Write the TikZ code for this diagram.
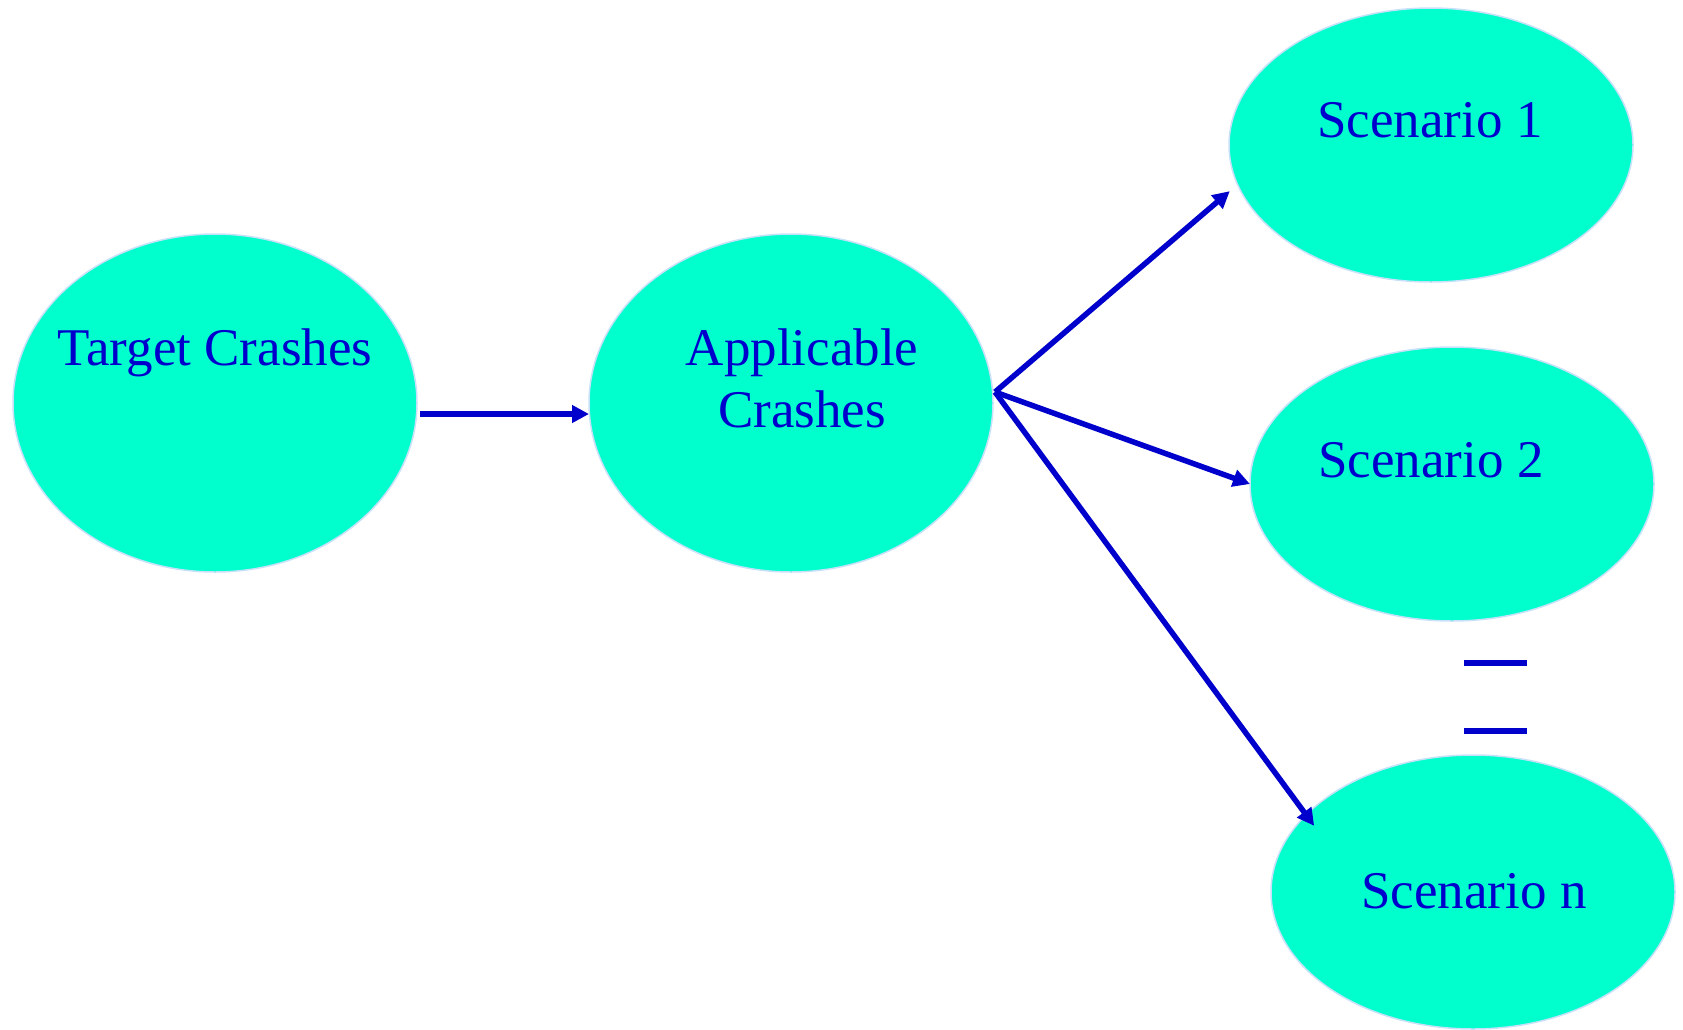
\documentclass[tikz,border=0pt]{standalone}
\usepackage{fontspec}
\setmainfont{Liberation Serif}
\usetikzlibrary{shapes.geometric,arrows.meta,calc}
\definecolor{ovalfill}{RGB}{0,255,204}
\definecolor{ovaledge}{RGB}{200,225,250}
\definecolor{inkblue}{RGB}{0,0,204}
\tikzset{
  oval/.style={ellipse, fill=ovalfill, draw=ovaledge, line width=1.5pt, inner sep=0pt, outer sep=0pt},
  lbl/.style={text=inkblue, font=\fontsize{53}{63}\selectfont, anchor=base, inner sep=0pt, align=center},
  link/.style={draw=inkblue, line width=5.5pt, -{Triangle[length=17pt,width=17pt]}},
  dashmark/.style={draw=inkblue, line width=5.5pt}
}
\begin{document}
\begin{tikzpicture}[x=1pt,y=-1pt]
\useasboundingbox (0,0) rectangle (1683,1029);
\node[oval, minimum width=404pt, minimum height=338pt] (t) at (215,403) {};
\node[oval, minimum width=404pt, minimum height=338pt] (a) at (791,403) {};
\node[oval, minimum width=404pt, minimum height=274pt] (s1) at (1431,145) {};
\node[oval, minimum width=404pt, minimum height=274pt] (s2) at (1452,484) {};
\node[oval, minimum width=404pt, minimum height=274pt] (sn) at (1473,892) {};
\node[lbl] (tl) at (215,365) {Target Crashes};
\node[lbl] (al1) at (802,365) {Applicable};
\node[lbl] (al2) at (802,427) {Crashes};
\node[lbl] (s1l) at (1430,137) {Scenario 1};
\node[lbl] (s2l) at (1431,477) {Scenario 2};
\node[lbl] (snl) at (1474,908) {Scenario n};
\coordinate (tout) at ([yshift=-11pt,xshift=3pt]t.east);
\coordinate (fan) at ([yshift=11pt,xshift=2pt]a.east);
\draw[link] (tout) -- ([yshift=-11pt]a.west);
\draw[link] (fan) -- ([xshift=-10pt,yshift=-2pt]s1.193);
\draw[link] (fan) -- (s2.180);
\draw[link] (fan) -- ([xshift=10pt,yshift=-9pt]sn.156);
\coordinate (d1a) at (1464,663);
\coordinate (d1b) at (1527,663);
\coordinate (d2a) at (1464,731);
\coordinate (d2b) at (1527,731);
\draw[dashmark] (d1a) -- (d1b);
\draw[dashmark] (d2a) -- (d2b);
\end{tikzpicture}
\end{document}
